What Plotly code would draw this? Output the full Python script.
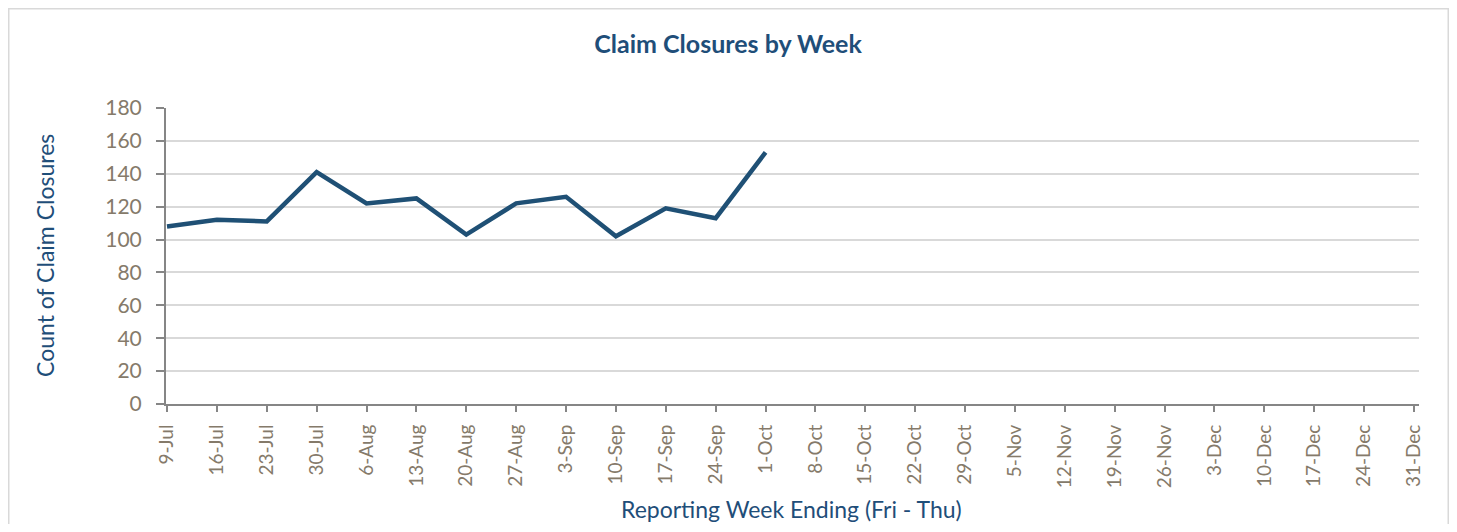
import plotly.graph_objects as go

weeks = ["9-Jul", "16-Jul", "23-Jul", "30-Jul", "6-Aug", "13-Aug", "20-Aug", "27-Aug",
         "3-Sep", "10-Sep", "17-Sep", "24-Sep", "1-Oct", "8-Oct", "15-Oct", "22-Oct",
         "29-Oct", "5-Nov", "12-Nov", "19-Nov", "26-Nov", "3-Dec", "10-Dec", "17-Dec",
         "24-Dec", "31-Dec"]
closures = [108, 112, 111, 141, 122, 125, 103, 122, 126, 102, 119, 113, 153,
            None, None, None, None, None, None, None, None, None, None, None, None, None]
y_ticks = [0, 20, 40, 60, 80, 100, 120, 140, 160, 180]

# page body has an 8px margin; figure sized to fit the 1457x532 window
W, H = 1441, 516
ML, MR, MT, MB = 158, 30, 100, 120
pw, ph = W - ML - MR, H - MT - MB

def px_x(p):
    return (p - ML) / pw

def px_y(p):
    return (H - MB - p) / ph

title_col = "#1F4E79"
tick_col = "#857A6A"
axis_col = "#868686"
grid_col = "#D9D9D9"
font_fam = "Lato, Carlito, Calibri, sans-serif"

fig = go.Figure()
fig.add_trace(go.Scatter(
    x=weeks, y=closures, mode="lines",
    line=dict(color="#1F5075", width=4.5, shape="linear"),
    connectgaps=False, showlegend=False, hoverinfo="x+y",
))

fig.update_layout(
    width=W, height=H,
    margin=dict(l=ML, r=MR, t=MT, b=MB),
    paper_bgcolor="white", plot_bgcolor="white",
    font=dict(family=font_fam),
    title=dict(text="<b>Claim Closures by Week</b>", x=px_x(720), xref="paper",
               xanchor="center", y=1 - 36 / H, yanchor="middle",
               font=dict(size=25, color=title_col, family=font_fam)),
    xaxis=dict(
        type="category", categoryorder="array", categoryarray=weeks,
        range=[-0.02, 25.1],
        showgrid=False, showline=True, linecolor=axis_col, linewidth=2,
        ticks="outside", ticklen=6, tickwidth=1.5, tickcolor=axis_col,
        ticklabelstandoff=5,
        tickangle=-90, tickfont=dict(size=19, color=tick_col, family=font_fam),
        zeroline=False, fixedrange=True,
    ),
    yaxis=dict(
        range=[0, 180], tickvals=y_ticks,
        showgrid=True, gridcolor=grid_col, gridwidth=1.5,
        showline=True, linecolor=axis_col, linewidth=2,
        ticks="outside", ticklen=8, tickwidth=1.5, tickcolor=axis_col,
        ticklabelstandoff=10,
        tickfont=dict(size=21, color=tick_col, family=font_fam),
        zeroline=False, fixedrange=True,
    ),
    annotations=[
        dict(text="Reporting Week Ending (Fri - Thu)", xref="paper", yref="paper",
             x=px_x(783), y=px_y(501), xanchor="center", yanchor="middle",
             showarrow=False, font=dict(size=23, color=title_col, family=font_fam)),
        dict(text="Count of Claim Closures", xref="paper", yref="paper",
             x=px_x(37), y=px_y(248), xanchor="center", yanchor="middle",
             textangle=-90, showarrow=False,
             font=dict(size=23, color=title_col, family=font_fam)),
    ],
    shapes=[dict(type="rect", xref="paper", yref="paper",
                 x0=px_x(0.75), x1=px_x(W - 0.75), y0=px_y(H + 10), y1=px_y(0.75),
                 line=dict(color="#D9D9D9", width=1.5), fillcolor="rgba(0,0,0,0)",
                 layer="below")],
)

fig.write_html("out.html")
